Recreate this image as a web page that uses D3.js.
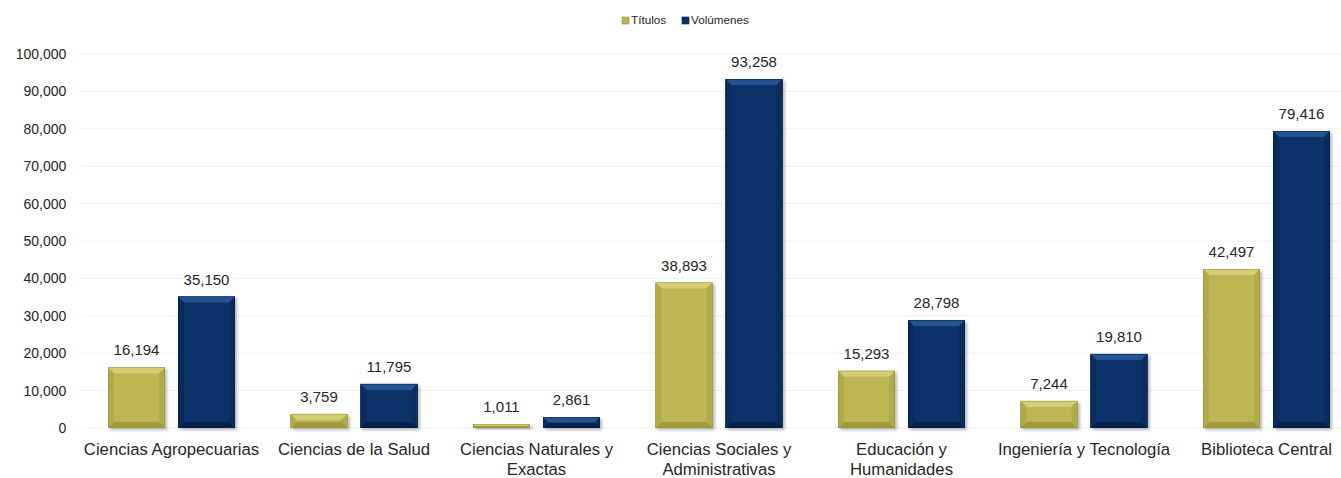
<!DOCTYPE html>
<html><head><meta charset="utf-8">
<script src="https://cdn.jsdelivr.net/npm/d3@7/dist/d3.min.js"></script>
<style>
html,body{margin:0;padding:0;background:#fff;}
svg{display:block;font-family:"Liberation Sans",Arial,sans-serif;}
</style></head>
<body>
<svg id="chart" width="1341" height="478"></svg>
<script>
const categories = ["Ciencias Agropecuarias","Ciencias de la Salud","Ciencias Naturales y Exactas","Ciencias Sociales y Administrativas","Educación y Humanidades","Ingeniería y Tecnología","Biblioteca Central"];
const seriesNames = ["Títulos","Volúmenes"];
const titulos = [16194,3759,1011,38893,15293,7244,42497];
const volumenes = [35150,11795,2861,93258,28798,19810,79416];
const yTicks = [0,10000,20000,30000,40000,50000,60000,70000,80000,90000,100000];

const palette = {
  "Títulos":   {face:"#BDB653", top:"#D3CD74", bottom:"#A09A3E", side:"#B0AA49", edge:"#948F3A"},
  "Volúmenes": {face:"#0A3169", top:"#27528F", bottom:"#06234E", side:"#082B5E", edge:"#051F46"}
};

const svg = d3.select("#chart");
const W = 1341, H = 478;
const plot = {left:80.25, right:1357.75, top:54, bottom:428};

const x = d3.scaleBand().domain(categories).range([plot.left, plot.right]).paddingInner(0).paddingOuter(0);
const y = d3.scaleLinear().domain([0,100000]).range([plot.bottom, plot.top]);
const x1 = d3.scaleBand().domain(seriesNames).range([x.bandwidth()/2-63.5, x.bandwidth()/2+63.5]).paddingInner(13/127*2/ (1+13/127) ).paddingOuter(0);

const defs = svg.append("defs");
const f = defs.append("filter").attr("id","shadow").attr("x","-20%").attr("y","-20%").attr("width","150%").attr("height","150%");
f.append("feDropShadow").attr("dx",2).attr("dy",2).attr("stdDeviation",1.8).attr("flood-color","#000").attr("flood-opacity",0.28);

// gridlines
svg.append("g").selectAll("line").data(yTicks).join("line")
  .attr("x1",plot.left).attr("x2",W).attr("y1",d=>y(d)).attr("y2",d=>y(d))
  .attr("stroke","#f0f0f0").attr("stroke-width",1);

// y axis
const yAxis = d3.axisLeft(y).tickValues(yTicks).tickFormat(d3.format(",")).tickSize(0).tickPadding(14);
const gy = svg.append("g").attr("transform",`translate(${plot.left},0)`).call(yAxis);
gy.select(".domain").remove();
gy.selectAll("text").attr("font-size",14).attr("fill","#262626").attr("font-family","Liberation Sans, Arial, sans-serif");

// bars
const data = [];
categories.forEach((c,i)=>{
  data.push({cat:c, s:"Títulos", v:titulos[i]});
  data.push({cat:c, s:"Volúmenes", v:volumenes[i]});
});

svg.append("g").selectAll("g").data(data).join("g")
  .attr("filter","url(#shadow)")
  .each(function(d){
    const g = d3.select(this);
    const bx = x(d.cat) + x1(d.s), bw = x1.bandwidth();
    const by = y(d.v), bh = y(0) - y(d.v);
    const p = palette[d.s];
    const b = Math.min(6, bh/2, bw/2);
    const X0=bx, X1=bx+bw, Y0=by, Y1=by+bh;
    g.append("rect").attr("x",X0).attr("y",Y0).attr("width",bw).attr("height",bh).attr("fill",p.face);
    g.append("polygon").attr("points",`${X0},${Y0} ${X1},${Y0} ${X1-b},${Y0+b} ${X0+b},${Y0+b}`).attr("fill",p.top);
    g.append("polygon").attr("points",`${X0},${Y1} ${X1},${Y1} ${X1-b},${Y1-b} ${X0+b},${Y1-b}`).attr("fill",p.bottom);
    g.append("polygon").attr("points",`${X0},${Y0} ${X0+b},${Y0+b} ${X0+b},${Y1-b} ${X0},${Y1}`).attr("fill",p.side);
    g.append("polygon").attr("points",`${X1},${Y0} ${X1-b},${Y0+b} ${X1-b},${Y1-b} ${X1},${Y1}`).attr("fill",p.side);
    g.append("rect").attr("x",X0+0.25).attr("y",Y0+0.25).attr("width",bw-0.5).attr("height",Math.max(0,bh-0.5))
      .attr("fill","none").attr("stroke",p.edge).attr("stroke-width",0.5);
  });

// value labels
svg.append("g").selectAll("text").data(data).join("text")
  .attr("x",d=>x(d.cat)+x1(d.s)+x1.bandwidth()/2)
  .attr("y",d=>y(d.v)-12)
  .attr("text-anchor","middle").attr("font-size",15).attr("fill","#262626")
  .text(d=>d3.format(",")(d.v));

// category labels with wrapping
const xAxis = d3.axisBottom(x).tickSize(0).tickPadding(0);
const gx = svg.append("g").attr("transform",`translate(0,${plot.bottom})`).call(xAxis);
gx.select(".domain").remove();
gx.selectAll("text").attr("font-size",16.7).attr("fill","#262626").attr("font-family","Liberation Sans, Arial, sans-serif")
  .attr("dy",null).attr("y",27)
  .each(function(){
    const t = d3.select(this);
    const words = t.text().split(/\s+/);
    t.text(null);
    let line = [];
    let ts = t.append("tspan").attr("x",0).attr("y",27);
    words.forEach(w=>{
      line.push(w);
      ts.text(line.join(" "));
      if (ts.node().getComputedTextLength() > 180 && line.length>1){
        line.pop();
        ts.text(line.join(" "));
        line=[w];
        ts = t.append("tspan").attr("x",0).attr("dy",20).text(w);
      }
    });
  });

// legend
const legend = svg.append("g");
const legX = [622, 682];
seriesNames.forEach((s,i)=>{
  legend.append("rect").attr("x",legX[i]).attr("y",17).attr("width",7).attr("height",7)
    .attr("fill",palette[s].face).attr("stroke",palette[s].edge).attr("stroke-width",0.6);
  legend.append("text").attr("x",legX[i]+9).attr("y",24).attr("font-size",11.7).attr("fill","#262626").text(s);
});
</script>
</body></html>
